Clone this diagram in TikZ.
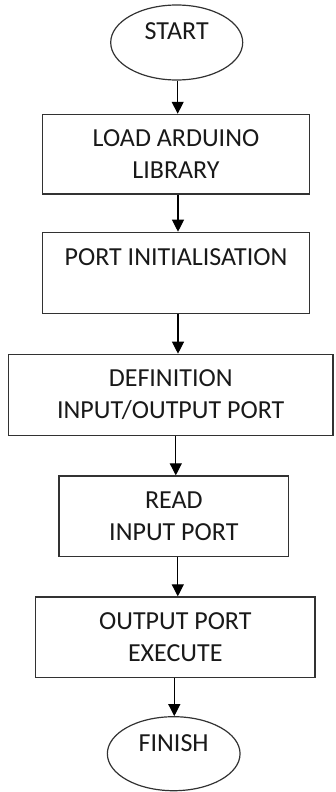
\documentclass[tikz,border=0pt]{standalone}
\usepackage{fontspec}
\setmainfont{Carlito}
\usetikzlibrary{arrows.meta,shapes.geometric}
\definecolor{linec}{RGB}{50,50,50}
\definecolor{txtc}{RGB}{25,25,25}
\begin{document}
\begin{tikzpicture}[x=1pt,y=-1pt,
  lbl/.style={font=\fontsize{26}{32}\selectfont, text=txtc, inner sep=0pt, align=center},
  proc/.style={lbl, draw=linec, line width=1.2pt, rectangle},
  term/.style={draw=linec, line width=1.2pt, ellipse, inner sep=0pt},
  flow/.style={draw=black, line width=1.2pt, -{Triangle[length=12pt,width=12pt]}}]
\useasboundingbox (0,0) rectangle (336,792);

\node[term, minimum width=132pt, minimum height=75pt] (start) at (176.7,42.5) {};
\node[lbl] (starttxt) at (176.7,31) {START};

\node[proc, minimum width=266.6pt, minimum height=79.7pt] (load) at (176,154.2) {LOAD ARDUINO\\LIBRARY};

\node[proc, minimum width=266.6pt, minimum height=81pt] (init) at (176,272.8) {};
\node[lbl] (inittxt) at (176,257.3) {PORT INITIALISATION};

\node[proc, minimum width=324.7pt, minimum height=81.4pt] (def) at (170.7,395) {DEFINITION\\INPUT/OUTPUT PORT};

\node[proc, minimum width=229.7pt, minimum height=80.7pt] (read) at (173.8,516.3) {READ\\INPUT PORT};

\node[proc, minimum width=279.3pt, minimum height=80.7pt] (exec) at (175.3,637.3) {OUTPUT PORT\\EXECUTE};

\node[term, minimum width=132.7pt, minimum height=74pt] (finish) at (173.7,753.7) {};
\node[lbl] (finishtxt) at (173.7,743.3) {FINISH};

\draw[flow] ([xshift=1pt]start.south) -- ([xshift=1pt]start.south |- load.north);
\draw[flow] ([xshift=2pt]load.south) -- ([xshift=2pt]load.south |- init.north);
\draw[flow] ([xshift=2pt]init.south) -- ([xshift=2pt]init.south |- def.north);
\draw[flow] ([xshift=2pt]read.north |- def.south) -- ([xshift=2pt]read.north);
\draw[flow] ([xshift=4pt]read.south) -- ([xshift=4pt]read.south |- exec.north);
\draw[flow] ([xshift=-1pt]exec.south) -- ([xshift=-1pt]exec.south |- finish.north);
\end{tikzpicture}
\end{document}
